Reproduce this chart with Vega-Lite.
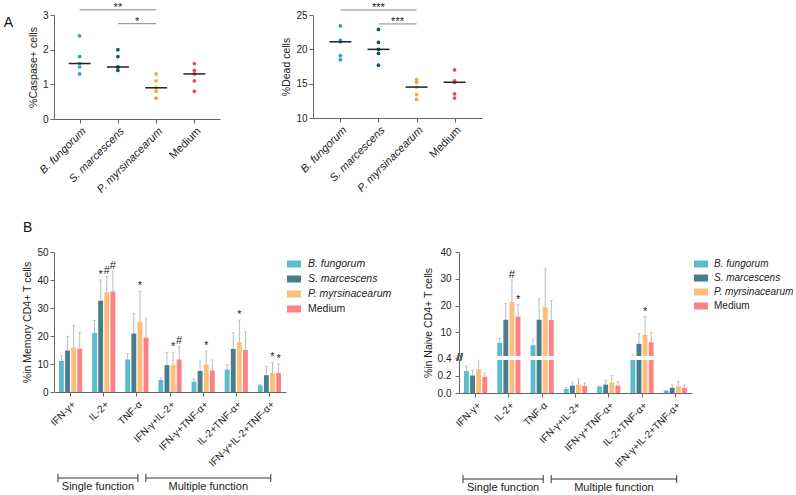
{
  "$schema": "https://vega.github.io/schema/vega-lite/v6.json",
  "background": "white",
  "padding": {"left": 3, "top": 1, "right": 0, "bottom": 0},
  "config": {
    "font": "Liberation Sans",
    "view": {"stroke": null},
    "axis": {"labelFont": "Liberation Sans", "titleFont": "Liberation Sans", "labelFontSize": 10, "titleFontSize": 10.5, "titleFontWeight": "normal", "domainColor": "#666", "tickColor": "#666", "labelColor": "#222", "titleColor": "#222", "grid": false, "tickSize": 4, "labelPadding": 2, "titlePadding": 4, "labelOverlap": false},
    "legend": {"labelFont": "Liberation Sans", "labelFontSize": 10.5, "labelColor": "#222", "symbolType": "M-1,-0.5L1,-0.5L1,0.5L-1,0.5Z", "symbolSize": 196, "symbolStrokeWidth": 0, "symbolOpacity": 1, "rowPadding": 2, "labelOffset": 7, "padding": 5},
    "title": {"font": "Liberation Sans", "fontSize": 14, "fontWeight": "normal", "color": "#111"},
    "text": {"font": "Liberation Sans"}
  },
  "datasets": {
    "caspase": [
      {"grp": "B. fungorum", "v": 2.4}, {"grp": "B. fungorum", "v": 1.8}, {"grp": "B. fungorum", "v": 1.6}, {"grp": "B. fungorum", "v": 1.5}, {"grp": "B. fungorum", "v": 1.3},
      {"grp": "S. marcescens", "v": 2.0}, {"grp": "S. marcescens", "v": 1.8}, {"grp": "S. marcescens", "v": 1.5}, {"grp": "S. marcescens", "v": 1.5}, {"grp": "S. marcescens", "v": 1.4},
      {"grp": "P. myrsinacearum", "v": 1.3}, {"grp": "P. myrsinacearum", "v": 1.1}, {"grp": "P. myrsinacearum", "v": 0.9}, {"grp": "P. myrsinacearum", "v": 0.8}, {"grp": "P. myrsinacearum", "v": 0.6},
      {"grp": "Medium", "v": 1.6}, {"grp": "Medium", "v": 1.4}, {"grp": "Medium", "v": 1.3}, {"grp": "Medium", "v": 1.1}, {"grp": "Medium", "v": 0.8}
    ],
    "dead": [
      {"grp": "B. fungorum", "v": 23.4}, {"grp": "B. fungorum", "v": 21.3}, {"grp": "B. fungorum", "v": 21.1}, {"grp": "B. fungorum", "v": 19.1}, {"grp": "B. fungorum", "v": 18.5},
      {"grp": "S. marcescens", "v": 22.9}, {"grp": "S. marcescens", "v": 21.0}, {"grp": "S. marcescens", "v": 20.0}, {"grp": "S. marcescens", "v": 19.4}, {"grp": "S. marcescens", "v": 17.7},
      {"grp": "P. myrsinacearum", "v": 15.6}, {"grp": "P. myrsinacearum", "v": 15.2}, {"grp": "P. myrsinacearum", "v": 14.5}, {"grp": "P. myrsinacearum", "v": 13.4}, {"grp": "P. myrsinacearum", "v": 12.7},
      {"grp": "Medium", "v": 17.0}, {"grp": "Medium", "v": 15.4}, {"grp": "Medium", "v": 15.2}, {"grp": "Medium", "v": 13.5}, {"grp": "Medium", "v": 12.9}
    ],
    "sigA": [
      {"panel": "c", "from": "B. fungorum", "to": "P. myrsinacearum", "y": 3.15, "label": "**", "pos": "top"},
      {"panel": "c", "from": "S. marcescens", "to": "P. myrsinacearum", "y": 2.75, "label": "*", "pos": "low"},
      {"panel": "d", "from": "B. fungorum", "to": "P. myrsinacearum", "y": 25.73, "label": "***", "pos": "top"},
      {"panel": "d", "from": "S. marcescens", "to": "P. myrsinacearum", "y": 23.7, "label": "***", "pos": "low"}
    ],
    "memory": [
      {"func": "IFN-γ+", "grp": "B. fungorum", "v": 11.1, "e": 12.9, "sig": ""},
      {"func": "IFN-γ+", "grp": "S. marcescens", "v": 14.8, "e": 19.9, "sig": ""},
      {"func": "IFN-γ+", "grp": "P. myrsinacearum", "v": 15.9, "e": 23.8, "sig": ""},
      {"func": "IFN-γ+", "grp": "Medium", "v": 15.5, "e": 21.3, "sig": ""},
      {"func": "IL-2+", "grp": "B. fungorum", "v": 21.1, "e": 25.5, "sig": ""},
      {"func": "IL-2+", "grp": "S. marcescens", "v": 32.6, "e": 40.0, "sig": "*"},
      {"func": "IL-2+", "grp": "P. myrsinacearum", "v": 35.6, "e": 41.3, "sig": "#"},
      {"func": "IL-2+", "grp": "Medium", "v": 35.9, "e": 43.2, "sig": "#"},
      {"func": "TNF-α", "grp": "B. fungorum", "v": 11.6, "e": 13.8, "sig": ""},
      {"func": "TNF-α", "grp": "S. marcescens", "v": 20.9, "e": 28.1, "sig": ""},
      {"func": "TNF-α", "grp": "P. myrsinacearum", "v": 25.1, "e": 36.0, "sig": "*"},
      {"func": "TNF-α", "grp": "Medium", "v": 19.4, "e": 26.3, "sig": ""},
      {"func": "IFN-γ+IL-2+", "grp": "B. fungorum", "v": 4.3, "e": 5.0, "sig": ""},
      {"func": "IFN-γ+IL-2+", "grp": "S. marcescens", "v": 9.6, "e": 14.2, "sig": ""},
      {"func": "IFN-γ+IL-2+", "grp": "P. myrsinacearum", "v": 9.6, "e": 14.2, "sig": "*"},
      {"func": "IFN-γ+IL-2+", "grp": "Medium", "v": 11.6, "e": 16.4, "sig": "#"},
      {"func": "IFN-γ+TNF-α+", "grp": "B. fungorum", "v": 3.7, "e": 4.6, "sig": ""},
      {"func": "IFN-γ+TNF-α+", "grp": "S. marcescens", "v": 7.5, "e": 11.0, "sig": ""},
      {"func": "IFN-γ+TNF-α+", "grp": "P. myrsinacearum", "v": 9.8, "e": 14.7, "sig": "*"},
      {"func": "IFN-γ+TNF-α+", "grp": "Medium", "v": 7.7, "e": 11.5, "sig": ""},
      {"func": "IL-2+TNF-α+", "grp": "B. fungorum", "v": 8.0, "e": 9.7, "sig": ""},
      {"func": "IL-2+TNF-α+", "grp": "S. marcescens", "v": 15.4, "e": 21.2, "sig": ""},
      {"func": "IL-2+TNF-α+", "grp": "P. myrsinacearum", "v": 17.8, "e": 25.7, "sig": "*"},
      {"func": "IL-2+TNF-α+", "grp": "Medium", "v": 15.0, "e": 21.4, "sig": ""},
      {"func": "IFN-γ+IL-2+TNF-α+", "grp": "B. fungorum", "v": 2.4, "e": 2.8, "sig": ""},
      {"func": "IFN-γ+IL-2+TNF-α+", "grp": "S. marcescens", "v": 6.0, "e": 9.2, "sig": ""},
      {"func": "IFN-γ+IL-2+TNF-α+", "grp": "P. myrsinacearum", "v": 6.8, "e": 10.6, "sig": "*"},
      {"func": "IFN-γ+IL-2+TNF-α+", "grp": "Medium", "v": 6.8, "e": 10.0, "sig": "*"}
    ],
    "naive": [
      {"func": "IFN-γ+", "grp": "B. fungorum", "v": 0.25, "e": 0.31, "sig": ""},
      {"func": "IFN-γ+", "grp": "S. marcescens", "v": 0.2, "e": 0.26, "sig": ""},
      {"func": "IFN-γ+", "grp": "P. myrsinacearum", "v": 0.27, "e": 0.4, "sig": ""},
      {"func": "IFN-γ+", "grp": "Medium", "v": 0.185, "e": 0.23, "sig": ""},
      {"func": "IL-2+", "grp": "B. fungorum", "v": 6.1, "e": 7.8, "sig": ""},
      {"func": "IL-2+", "grp": "S. marcescens", "v": 14.7, "e": 20.8, "sig": ""},
      {"func": "IL-2+", "grp": "P. myrsinacearum", "v": 21.3, "e": 29.5, "sig": "#"},
      {"func": "IL-2+", "grp": "Medium", "v": 15.9, "e": 20.3, "sig": "*"},
      {"func": "TNF-α", "grp": "B. fungorum", "v": 5.2, "e": 7.5, "sig": ""},
      {"func": "TNF-α", "grp": "S. marcescens", "v": 14.7, "e": 22.7, "sig": ""},
      {"func": "TNF-α", "grp": "P. myrsinacearum", "v": 19.4, "e": 33.7, "sig": ""},
      {"func": "TNF-α", "grp": "Medium", "v": 14.6, "e": 21.9, "sig": ""},
      {"func": "IFN-γ+IL-2+", "grp": "B. fungorum", "v": 0.046, "e": 0.065, "sig": ""},
      {"func": "IFN-γ+IL-2+", "grp": "S. marcescens", "v": 0.085, "e": 0.12, "sig": ""},
      {"func": "IFN-γ+IL-2+", "grp": "P. myrsinacearum", "v": 0.096, "e": 0.16, "sig": ""},
      {"func": "IFN-γ+IL-2+", "grp": "Medium", "v": 0.081, "e": 0.115, "sig": ""},
      {"func": "IFN-γ+TNF-α+", "grp": "B. fungorum", "v": 0.073, "e": 0.08, "sig": ""},
      {"func": "IFN-γ+TNF-α+", "grp": "S. marcescens", "v": 0.096, "e": 0.146, "sig": ""},
      {"func": "IFN-γ+TNF-α+", "grp": "P. myrsinacearum", "v": 0.12, "e": 0.2, "sig": ""},
      {"func": "IFN-γ+TNF-α+", "grp": "Medium", "v": 0.085, "e": 0.127, "sig": ""},
      {"func": "IL-2+TNF-α+", "grp": "B. fungorum", "v": 1.0, "e": 1.6, "sig": ""},
      {"func": "IL-2+TNF-α+", "grp": "S. marcescens", "v": 5.7, "e": 9.6, "sig": ""},
      {"func": "IL-2+TNF-α+", "grp": "P. myrsinacearum", "v": 9.1, "e": 15.9, "sig": "*"},
      {"func": "IL-2+TNF-α+", "grp": "Medium", "v": 6.3, "e": 9.9, "sig": ""},
      {"func": "IFN-γ+IL-2+TNF-α+", "grp": "B. fungorum", "v": 0.027, "e": 0.03, "sig": ""},
      {"func": "IFN-γ+IL-2+TNF-α+", "grp": "S. marcescens", "v": 0.06, "e": 0.092, "sig": ""},
      {"func": "IFN-γ+IL-2+TNF-α+", "grp": "P. myrsinacearum", "v": 0.077, "e": 0.13, "sig": ""},
      {"func": "IFN-γ+IL-2+TNF-α+", "grp": "Medium", "v": 0.06, "e": 0.092, "sig": ""}
    ],
    "brackets": [
      {"label": "Single function", "start": -0.38, "end": 2.03},
      {"label": "Multiple function", "start": 2.27, "end": 6.04}
    ]
  },
  "spacing": 26,
  "resolve": {"scale": {"color": "independent", "x": "independent", "y": "independent"}, "legend": {"color": "independent"}},
  "vconcat": [
    {
      "title": {"text": "A", "orient": "left", "anchor": "end", "angle": 0, "align": "right", "baseline": "top", "dy": 14, "offset": 6, "fontSize": 14},
      "spacing": 61,
      "resolve": {"scale": {"color": "independent", "x": "independent", "y": "independent"}},
      "hconcat": [
        {
          "width": 166, "height": 104,
          "layer": [
            {"data": {"name": "caspase"}, "mark": {"type": "circle", "size": 14, "opacity": 1},
             "encoding": {
               "x": {"field": "grp", "type": "nominal", "scale": {"type": "point", "padding": 0.67, "domain": ["B. fungorum", "S. marcescens", "P. myrsinacearum", "Medium"]}, "title": null,
                     "axis": {"labelAngle": -45, "labelFontSize": 11, "labelPadding": 2, "labelFontStyle": {"condition": {"test": "datum.value === 'Medium'", "value": "normal"}, "value": "italic"}}},
               "y": {"field": "v", "type": "quantitative", "scale": {"domain": [0, 3], "nice": false}, "axis": {"values": [0, 1, 2, 3], "tickCount": 20, "format": "d", "title": "%Caspase+ cells"}},
               "color": {"field": "grp", "type": "nominal", "scale": {"domain": ["B. fungorum", "S. marcescens", "P. myrsinacearum", "Medium"], "range": ["#21a6c6", "#0e5a6e", "#f9a43c", "#ef4b4f"]}, "legend": null}}},
            {"data": {"name": "caspase"}, "mark": {"type": "tick", "color": "#222", "size": 22, "thickness": 1.5},
             "encoding": {"x": {"field": "grp", "type": "nominal"}, "y": {"aggregate": "median", "field": "v", "type": "quantitative"}}},
            {"data": {"name": "sigA"}, "transform": [{"filter": "datum.panel == 'c'"}], "mark": {"type": "rule", "color": "#888", "strokeWidth": 1},
             "encoding": {"x": {"field": "from", "type": "nominal"}, "x2": {"field": "to"}, "y": {"field": "y", "type": "quantitative"}}},
            {"data": {"name": "sigA"}, "transform": [{"filter": "datum.panel == 'c' && datum.pos == 'top'"}], "mark": {"type": "text", "fontSize": 11, "baseline": "alphabetic", "dy": 1, "color": "#222"},
             "encoding": {"x": {"datum": "S. marcescens", "type": "nominal"}, "y": {"field": "y", "type": "quantitative"}, "text": {"field": "label"}}},
            {"data": {"name": "sigA"}, "transform": [{"filter": "datum.panel == 'c' && datum.pos == 'low'"}], "mark": {"type": "text", "fontSize": 11, "baseline": "alphabetic", "dy": 1, "dx": -19, "color": "#222"},
             "encoding": {"x": {"field": "to", "type": "nominal"}, "y": {"field": "y", "type": "quantitative"}, "text": {"field": "label"}}}
          ]
        },
        {
          "width": 169, "height": 103,
          "layer": [
            {"data": {"name": "dead"}, "mark": {"type": "circle", "size": 14, "opacity": 1},
             "encoding": {
               "x": {"field": "grp", "type": "nominal", "scale": {"type": "point", "padding": 0.72, "domain": ["B. fungorum", "S. marcescens", "P. myrsinacearum", "Medium"]}, "title": null,
                     "axis": {"labelAngle": -45, "labelFontSize": 11, "labelPadding": 2, "labelFontStyle": {"condition": {"test": "datum.value === 'Medium'", "value": "normal"}, "value": "italic"}}},
               "y": {"field": "v", "type": "quantitative", "scale": {"domain": [10, 25], "nice": false, "zero": false}, "axis": {"values": [10, 15, 20, 25], "tickCount": 20, "format": "d", "title": "%Dead cells"}},
               "color": {"field": "grp", "type": "nominal", "scale": {"domain": ["B. fungorum", "S. marcescens", "P. myrsinacearum", "Medium"], "range": ["#21a6c6", "#0e5a6e", "#f9a43c", "#ef4b4f"]}, "legend": null}}},
            {"data": {"name": "dead"}, "mark": {"type": "tick", "color": "#222", "size": 22, "thickness": 1.5},
             "encoding": {"x": {"field": "grp", "type": "nominal"}, "y": {"aggregate": "median", "field": "v", "type": "quantitative"}}},
            {"data": {"name": "sigA"}, "transform": [{"filter": "datum.panel == 'd'"}], "mark": {"type": "rule", "color": "#888", "strokeWidth": 1},
             "encoding": {"x": {"field": "from", "type": "nominal"}, "x2": {"field": "to"}, "y": {"field": "y", "type": "quantitative"}}},
            {"data": {"name": "sigA"}, "transform": [{"filter": "datum.panel == 'd' && datum.pos == 'top'"}], "mark": {"type": "text", "fontSize": 11, "baseline": "alphabetic", "dy": 1, "color": "#222"},
             "encoding": {"x": {"datum": "S. marcescens", "type": "nominal"}, "y": {"field": "y", "type": "quantitative"}, "text": {"field": "label"}}},
            {"data": {"name": "sigA"}, "transform": [{"filter": "datum.panel == 'd' && datum.pos == 'low'"}], "mark": {"type": "text", "fontSize": 11, "baseline": "alphabetic", "dy": 1, "dx": -19, "color": "#222"},
             "encoding": {"x": {"field": "to", "type": "nominal"}, "y": {"field": "y", "type": "quantitative"}, "text": {"field": "label"}}}
          ]
        }
      ]
    },
    {
      "title": {"text": "B", "anchor": "start", "fontSize": 14, "offset": 12},
      "spacing": 26,
      "resolve": {"scale": {"color": "independent", "x": "independent", "y": "independent"}, "legend": {"color": "independent"}},
      "hconcat": [
        {
          "bounds": "flush",
          "spacing": 82,
          "resolve": {"scale": {"x": "independent", "y": "independent"}},
          "vconcat": [
            {
              "width": 232, "height": 140,
              "data": {"name": "memory"},
              "layer": [
                {"mark": {"type": "bar"},
                 "encoding": {
                   "x": {"field": "func", "type": "nominal", "scale": {"domain": ["IFN-γ+", "IL-2+", "TNF-α", "IFN-γ+IL-2+", "IFN-γ+TNF-α+", "IL-2+TNF-α+", "IFN-γ+IL-2+TNF-α+"], "paddingInner": 0.3, "paddingOuter": 0.15}, "title": null, "axis": {"labelAngle": -45, "labelFontSize": 10, "labelPadding": 3}},
                   "xOffset": {"field": "grp", "type": "nominal", "scale": {"domain": ["B. fungorum", "S. marcescens", "P. myrsinacearum", "Medium"], "paddingInner": 0.2}},
                   "y": {"field": "v", "type": "quantitative", "scale": {"domain": [0, 50], "nice": false}, "axis": {"values": [0, 10, 20, 30, 40, 50], "tickCount": 20, "format": "d", "title": "%in Memory CD4+ T cells"}},
                   "color": {"field": "grp", "type": "nominal", "scale": {"domain": ["B. fungorum", "S. marcescens", "P. myrsinacearum", "Medium"], "range": ["#5cbccc", "#4a7d8c", "#ffbd7b", "#ff8184"]},
                             "legend": {"title": null, "orient": "right", "offset": -4, "labelFontStyle": {"expr": "datum.label == 'Medium' ? 'normal' : 'italic'"}}}}},
                {"mark": {"type": "rule", "color": "#aaa", "strokeWidth": 0.8},
                 "encoding": {"x": {"field": "func", "type": "nominal"}, "xOffset": {"field": "grp", "type": "nominal"}, "y": {"field": "v", "type": "quantitative"}, "y2": {"field": "e"}}},
                {"mark": {"type": "tick", "color": "#aaa", "size": 3, "thickness": 0.8},
                 "encoding": {"x": {"field": "func", "type": "nominal"}, "xOffset": {"field": "grp", "type": "nominal"}, "y": {"field": "e", "type": "quantitative"}}},
                {"mark": {"type": "text", "fontSize": 11, "baseline": "alphabetic", "dy": -2, "color": "#222"},
                 "encoding": {"x": {"field": "func", "type": "nominal"}, "xOffset": {"field": "grp", "type": "nominal"}, "y": {"field": "e", "type": "quantitative"}, "text": {"field": "sig"}}}
              ]
            },
            {
              "width": 232, "height": 20,
              "data": {"name": "brackets"},
              "transform": [{"calculate": "(datum.start + datum.end) / 2", "as": "mid"}],
              "layer": [
                {"mark": {"type": "rule", "color": "#333"},
                 "encoding": {"x": {"field": "start", "type": "quantitative", "scale": {"domain": [-0.5, 6.5], "nice": false, "zero": false}, "axis": null}, "x2": {"field": "end"}, "y": {"datum": 8, "type": "quantitative", "scale": {"domain": [0, 10], "nice": false}, "axis": null}}},
                {"mark": {"type": "rule", "color": "#333"},
                 "encoding": {"x": {"field": "start", "type": "quantitative"}, "y": {"datum": 6, "type": "quantitative"}, "y2": {"datum": 10}}},
                {"mark": {"type": "rule", "color": "#333"},
                 "encoding": {"x": {"field": "end", "type": "quantitative"}, "y": {"datum": 6, "type": "quantitative"}, "y2": {"datum": 10}}},
                {"mark": {"type": "text", "fontSize": 11, "baseline": "middle", "color": "#222"},
                 "encoding": {"x": {"field": "mid", "type": "quantitative"}, "y": {"datum": 3.5, "type": "quantitative"}, "text": {"field": "label"}}}
              ]
            }
          ]
        },
        {
          "bounds": "flush",
          "spacing": 82,
          "resolve": {"scale": {"x": "independent", "y": "independent"}},
          "vconcat": [
            {
              "width": 233, "height": 141,
              "data": {"name": "naive"},
              "layer": [
                {"mark": {"type": "bar"},
                 "encoding": {
                   "x": {"field": "func", "type": "nominal", "scale": {"domain": ["IFN-γ+", "IL-2+", "TNF-α", "IFN-γ+IL-2+", "IFN-γ+TNF-α+", "IL-2+TNF-α+", "IFN-γ+IL-2+TNF-α+"], "paddingInner": 0.3, "paddingOuter": 0.15}, "title": null, "axis": {"labelAngle": -45, "labelFontSize": 10, "labelPadding": 3}},
                   "xOffset": {"field": "grp", "type": "nominal", "scale": {"domain": ["B. fungorum", "S. marcescens", "P. myrsinacearum", "Medium"], "paddingInner": 0.2}},
                   "y": {"field": "v", "type": "quantitative", "scale": {"domain": [0, 0.4, 40], "range": [141, 106, 0], "nice": false, "zero": false},
                         "axis": {"values": [0, 0.2, 0.4, 10, 20, 30, 40], "tickCount": 20, "labelPadding": 4, "labelExpr": "datum.value < 1 ? format(datum.value, '.1f') : format(datum.value, 'd')", "title": "%in Naive CD4+ T cells"}},
                   "color": {"field": "grp", "type": "nominal", "scale": {"domain": ["B. fungorum", "S. marcescens", "P. myrsinacearum", "Medium"], "range": ["#5cbccc", "#4a7d8c", "#ffbd7b", "#ff8184"]},
                             "legend": {"title": null, "orient": "right", "offset": -5, "labelFontSize": 10, "labelOffset": 6, "labelFontStyle": {"expr": "datum.label == 'Medium' ? 'normal' : 'italic'"}}}}},
                {"mark": {"type": "rule", "color": "#aaa", "strokeWidth": 0.8},
                 "encoding": {"x": {"field": "func", "type": "nominal"}, "xOffset": {"field": "grp", "type": "nominal"}, "y": {"field": "v", "type": "quantitative"}, "y2": {"field": "e"}}},
                {"mark": {"type": "tick", "color": "#aaa", "size": 3, "thickness": 0.8},
                 "encoding": {"x": {"field": "func", "type": "nominal"}, "xOffset": {"field": "grp", "type": "nominal"}, "y": {"field": "e", "type": "quantitative"}}},
                {"mark": {"type": "text", "fontSize": 11, "baseline": "alphabetic", "dy": -2, "color": "#222"},
                 "encoding": {"x": {"field": "func", "type": "nominal"}, "xOffset": {"field": "grp", "type": "nominal"}, "y": {"field": "e", "type": "quantitative"}, "text": {"field": "sig"}}},
                {"mark": {"type": "rule", "color": "white", "strokeWidth": 2.5},
                 "encoding": {"y": {"datum": 0.4, "type": "quantitative"}}},
                {"mark": {"type": "text", "text": "//", "fontSize": 10, "dx": -16, "color": "#555"},
                 "encoding": {"x": {"datum": "IFN-γ+", "type": "nominal"}, "y": {"datum": 0.4, "type": "quantitative"}}}
              ]
            },
            {
              "width": 233, "height": 20,
              "data": {"name": "brackets"},
              "transform": [{"calculate": "(datum.start + datum.end) / 2", "as": "mid"}],
              "layer": [
                {"mark": {"type": "rule", "color": "#333"},
                 "encoding": {"x": {"field": "start", "type": "quantitative", "scale": {"domain": [-0.5, 6.5], "nice": false, "zero": false}, "axis": null}, "x2": {"field": "end"}, "y": {"datum": 8, "type": "quantitative", "scale": {"domain": [0, 10], "nice": false}, "axis": null}}},
                {"mark": {"type": "rule", "color": "#333"},
                 "encoding": {"x": {"field": "start", "type": "quantitative"}, "y": {"datum": 6, "type": "quantitative"}, "y2": {"datum": 10}}},
                {"mark": {"type": "rule", "color": "#333"},
                 "encoding": {"x": {"field": "end", "type": "quantitative"}, "y": {"datum": 6, "type": "quantitative"}, "y2": {"datum": 10}}},
                {"mark": {"type": "text", "fontSize": 11, "baseline": "middle", "color": "#222"},
                 "encoding": {"x": {"field": "mid", "type": "quantitative"}, "y": {"datum": 3.5, "type": "quantitative"}, "text": {"field": "label"}}}
              ]
            }
          ]
        }
      ]
    }
  ]
}
